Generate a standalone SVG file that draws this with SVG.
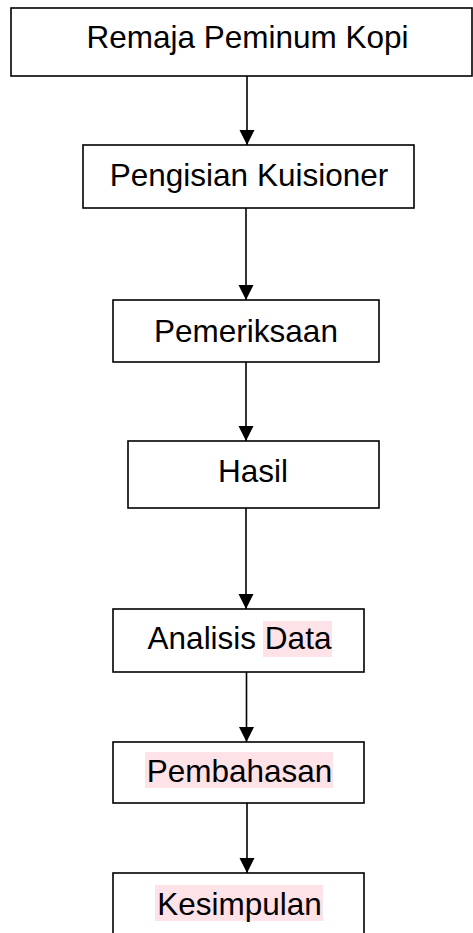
<svg xmlns="http://www.w3.org/2000/svg" width="473" height="933" viewBox="0 0 473 933">
<style>
.box{fill:#ffffff;stroke:#000000;stroke-width:1.6}
.lbl{font-family:"Liberation Sans",Arial,sans-serif;font-size:31.5px;fill:#000000;text-anchor:middle}
.hl{fill:#fde2e8}
.con{stroke:#000000;stroke-width:1.6;fill:none;marker-end:url(#arr)}
</style>
<defs>
<marker id="arr" markerUnits="userSpaceOnUse" markerWidth="16" markerHeight="16" viewBox="0 -8 16 16" refX="15" refY="0" orient="auto">
<path d="M0,-7.5 L15,0 L0,7.5 z" fill="#000000"/>
</marker>
</defs>
<rect width="473" height="933" fill="#ffffff"/>
<g id="connectors">
<line class="con" x1="247" y1="76" x2="247" y2="145"/>
<line class="con" x1="246" y1="208" x2="246" y2="300"/>
<line class="con" x1="246" y1="362" x2="246" y2="441"/>
<line class="con" x1="246" y1="508" x2="246" y2="609"/>
<line class="con" x1="246.5" y1="672" x2="246.5" y2="742"/>
<line class="con" x1="247" y1="803" x2="247" y2="873"/>
</g>
<g id="node1">
<rect class="box" x="11" y="8" width="461" height="68"/>
<text class="lbl" x="247.5" y="48">Remaja Peminum Kopi</text>
</g>
<g id="node2">
<rect class="box" x="83" y="145" width="331" height="63"/>
<text class="lbl" x="249" y="186">Pengisian Kuisioner</text>
</g>
<g id="node3">
<rect class="box" x="113" y="300" width="266" height="62"/>
<text class="lbl" x="246" y="342">Pemeriksaan</text>
</g>
<g id="node4">
<rect class="box" x="128" y="441" width="251" height="67"/>
<text class="lbl" x="253" y="482">Hasil</text>
</g>
<g id="node5">
<rect class="box" x="113" y="609" width="251" height="63"/>
<rect class="hl" x="263" y="621" width="69" height="36"/>
<text class="lbl" x="239.5" y="649">Analisis Data</text>
</g>
<g id="node6">
<rect class="box" x="113" y="742" width="251" height="61"/>
<rect class="hl" x="145" y="752" width="188" height="36"/>
<text class="lbl" x="239.5" y="782">Pembahasan</text>
</g>
<g id="node7">
<rect class="box" x="113" y="873" width="251" height="70"/>
<rect class="hl" x="155" y="885" width="168" height="36"/>
<text class="lbl" x="239.5" y="915">Kesimpulan</text>
</g>
</svg>
